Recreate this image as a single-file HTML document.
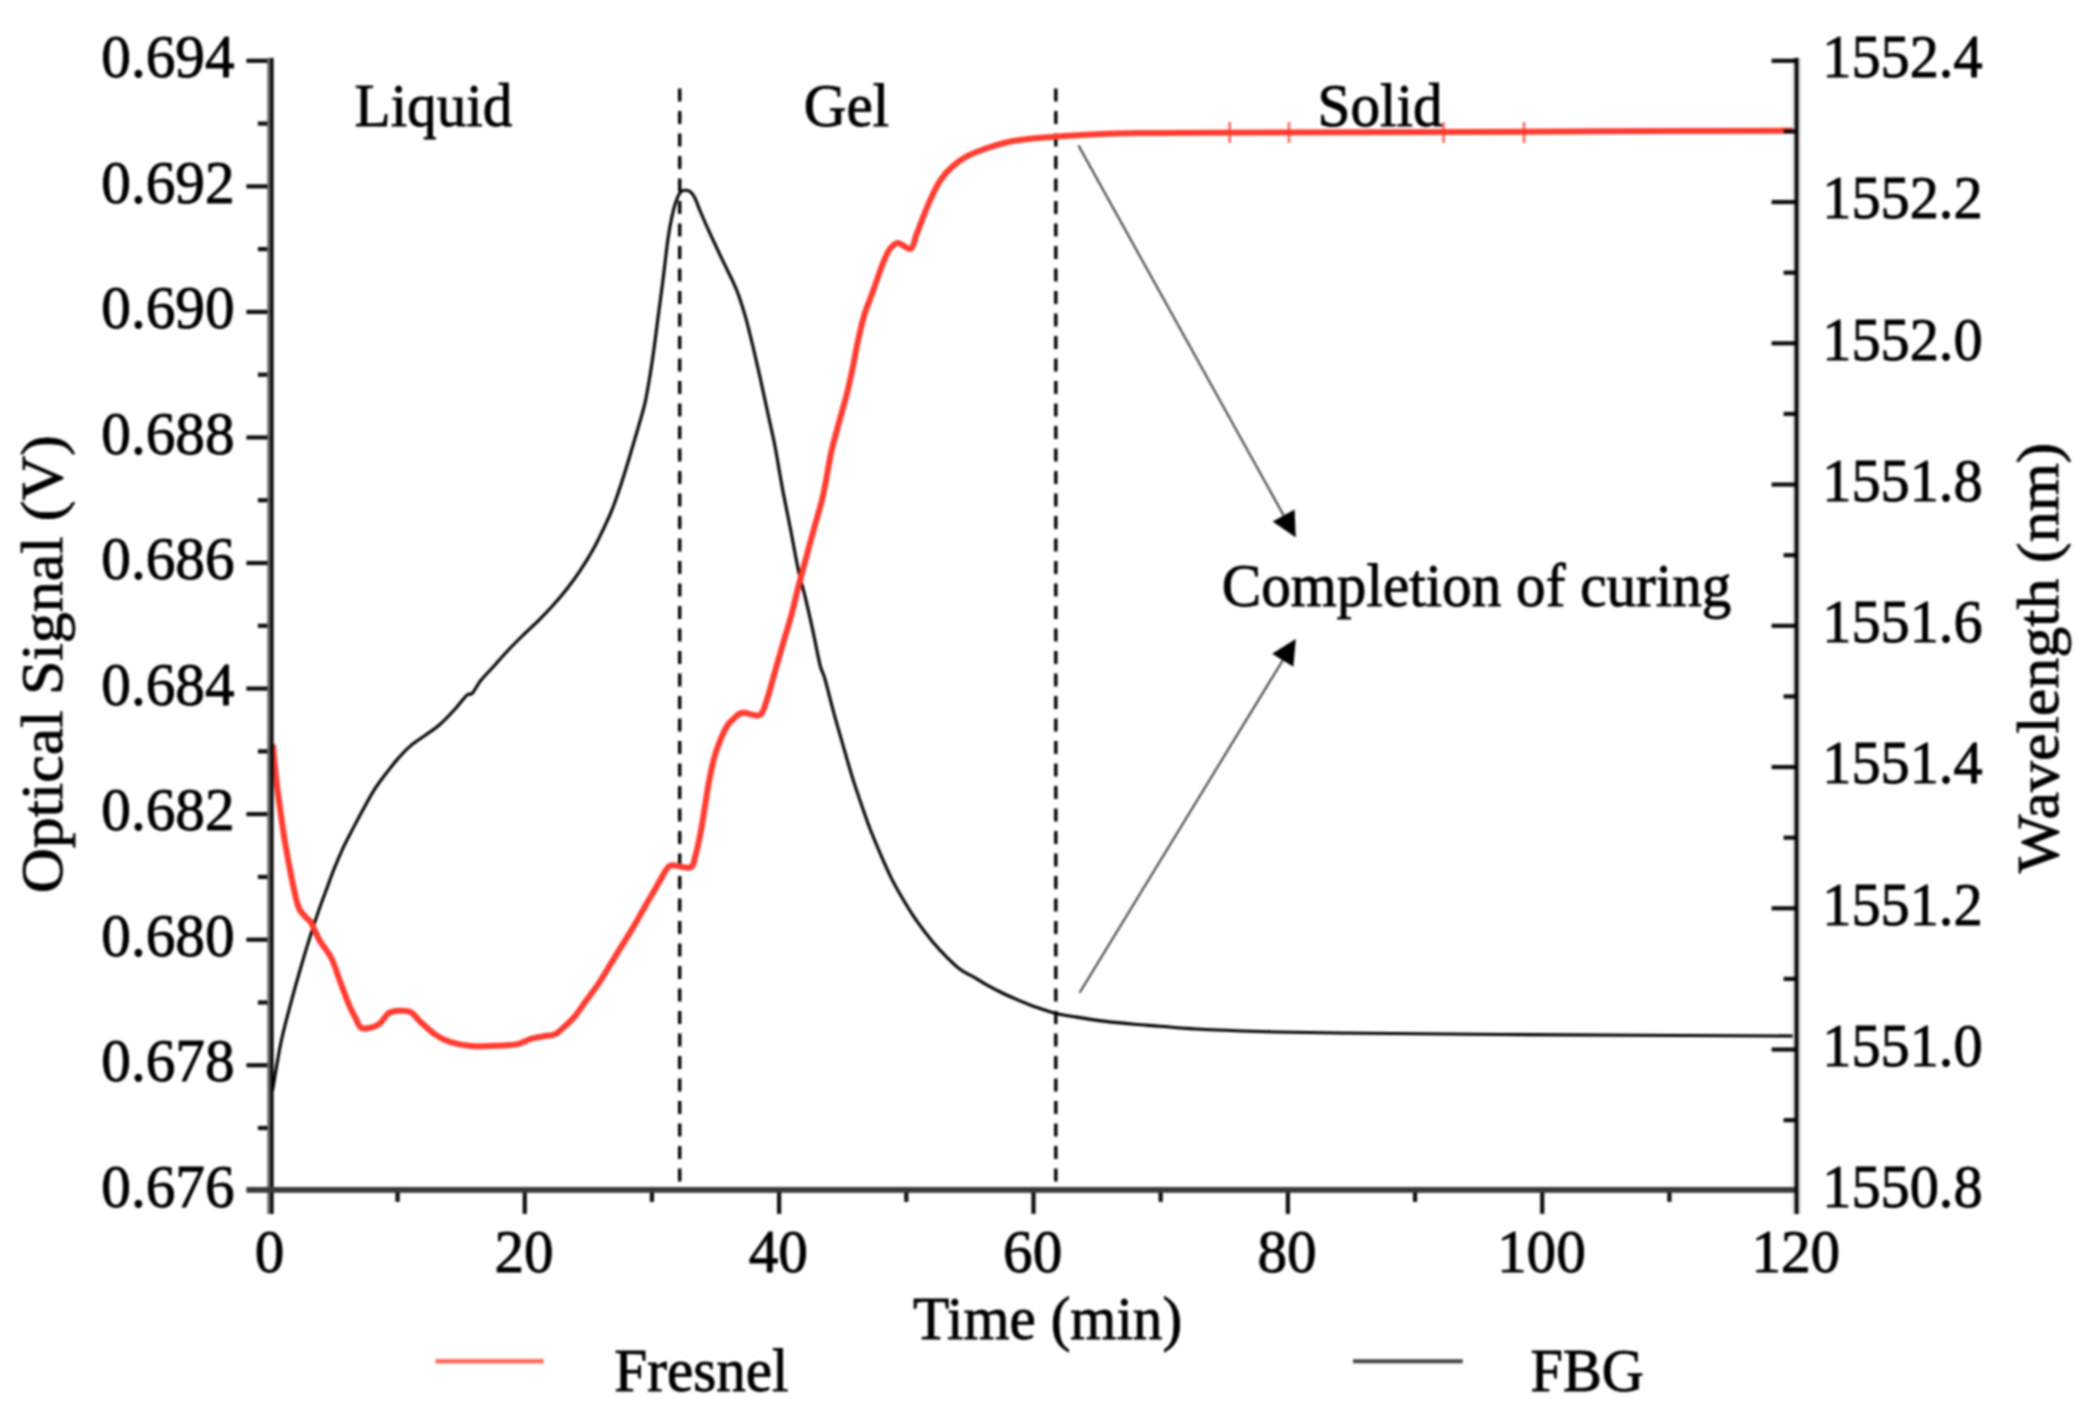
<!DOCTYPE html>
<html><head><meta charset="utf-8"><title>Curing chart</title>
<style>html,body{margin:0;padding:0;background:#fff}body{width:2079px;height:1419px;overflow:hidden}</style></head>
<body>
<svg width="2079" height="1419" viewBox="0 0 2079 1419" style="display:block;filter:blur(0.8px)">
<rect width="2079" height="1419" fill="#fff"/>
<line x1="679.7" y1="88.5" x2="679.7" y2="1187" stroke="#000" stroke-width="3.4" stroke-dasharray="13 9.5"/>
<line x1="1055.8" y1="88.5" x2="1055.8" y2="1187" stroke="#000" stroke-width="3.4" stroke-dasharray="13 9.5"/>
<path d="M272.5,1091.0 C273.9,1083.0 277.7,1057.9 280.8,1043.2 C283.9,1028.5 287.5,1015.5 290.9,1002.8 C294.3,990.0 297.6,978.3 301.0,966.7 C304.4,955.1 308.0,943.3 311.1,933.4 C314.2,923.5 317.4,914.3 319.8,907.4 C322.2,900.5 323.2,898.2 325.6,891.8 C328.0,885.3 331.3,875.9 334.2,868.7 C337.1,861.5 340.0,854.7 342.9,848.4 C345.8,842.1 348.2,837.6 351.6,831.1 C355.0,824.6 359.2,816.4 363.1,809.4 C367.0,802.4 370.9,795.2 374.7,789.2 C378.5,783.2 382.3,778.3 386.2,773.3 C390.1,768.2 393.5,763.7 397.8,758.9 C402.1,754.1 405.5,749.8 412.2,744.4 C418.9,739.0 430.6,732.2 437.8,726.3 C445.0,720.4 450.3,714.2 455.1,709.0 C459.9,703.8 463.8,697.9 466.7,695.3 C469.6,692.6 470.0,695.6 472.4,693.1 C474.8,690.6 477.2,684.9 481.1,680.1 C485.0,675.3 490.8,669.5 495.6,664.2 C500.4,658.9 505.2,653.3 510.0,648.3 C514.8,643.2 519.6,638.6 524.4,633.9 C529.2,629.2 534.1,625.0 538.9,620.2 C543.7,615.4 548.5,610.4 553.3,605.0 C558.1,599.6 563.5,593.2 567.8,587.7 C572.1,582.2 575.7,577.1 579.3,571.8 C582.9,566.5 586.3,561.2 589.4,555.9 C592.5,550.6 594.3,547.8 598.1,540.0 C601.9,532.2 608.1,519.8 612.4,508.9 C616.7,498.0 619.9,488.1 624.1,474.8 C628.3,461.5 634.3,440.9 637.8,428.9 C641.3,416.9 643.1,411.1 645.0,402.9 C646.9,394.7 647.8,388.5 649.3,379.8 C650.8,371.1 652.2,361.2 653.7,350.9 C655.2,340.5 656.6,328.6 658.0,317.7 C659.4,306.8 661.3,293.4 662.3,285.5 C663.3,277.6 663.2,277.9 664.2,270.0 C665.2,262.1 666.8,246.9 668.1,238.0 C669.4,229.1 670.6,222.5 672.0,216.3 C673.4,210.1 674.8,204.8 676.3,200.7 C677.8,196.6 679.2,193.7 680.7,192.0 C682.2,190.3 683.5,190.4 685.0,190.3 C686.5,190.2 688.4,190.3 690.0,191.5 C691.6,192.7 692.7,193.9 694.5,197.3 C696.3,200.7 698.0,205.9 700.6,212.0 C703.2,218.1 706.5,225.8 710.1,233.7 C713.7,241.6 718.5,251.7 722.3,259.7 C726.1,267.7 730.1,275.4 732.9,281.5 C735.7,287.6 736.7,289.7 738.9,296.0 C741.1,302.3 743.7,310.4 746.1,319.1 C748.5,327.8 750.9,337.9 753.3,348.0 C755.7,358.1 758.2,369.0 760.6,379.8 C763.0,390.6 765.4,401.9 767.8,413.0 C770.2,424.1 773.0,435.9 775.0,446.2 C777.0,456.5 778.5,466.5 780.0,474.8 C781.5,483.1 782.0,486.5 783.9,496.1 C785.8,505.7 788.7,519.9 791.1,532.2 C793.5,544.5 795.9,558.7 798.3,569.8 C800.7,580.9 803.2,588.6 805.6,598.7 C808.0,608.8 810.4,619.4 812.8,630.4 C815.2,641.4 818.0,656.7 820.0,664.8 C822.0,672.9 822.6,671.0 824.9,678.9 C827.2,686.8 830.7,701.5 833.6,712.1 C836.5,722.7 839.1,731.6 842.2,742.4 C845.3,753.2 848.7,765.5 852.3,777.1 C855.9,788.7 860.9,803.0 863.9,811.8 C866.9,820.6 867.7,822.9 870.5,830.0 C873.3,837.1 877.2,846.5 880.7,854.7 C884.2,862.9 887.8,871.2 891.8,879.1 C895.8,887.0 900.5,895.0 904.8,902.2 C909.1,909.4 913.2,915.9 917.8,922.4 C922.4,928.9 927.4,935.4 932.2,941.2 C937.0,947.0 941.9,952.3 946.7,957.1 C951.5,961.9 956.3,966.6 961.1,970.1 C965.9,973.6 970.8,975.3 975.6,978.1 C980.4,980.9 985.2,984.1 990.0,986.7 C994.8,989.4 999.6,991.7 1004.4,994.0 C1009.2,996.3 1014.1,998.4 1018.9,1000.4 C1023.7,1002.4 1027.2,1004.1 1033.3,1006.2 C1039.4,1008.3 1048.2,1011.4 1055.4,1013.2 C1062.6,1015.0 1068.3,1015.7 1076.7,1017.1 C1085.1,1018.5 1096.0,1020.2 1105.6,1021.4 C1115.2,1022.6 1125.3,1023.5 1134.4,1024.3 C1143.5,1025.1 1149.7,1025.4 1160.0,1026.2 C1170.3,1027.0 1179.7,1028.1 1196.3,1029.0 C1212.9,1029.9 1235.8,1030.8 1259.8,1031.5 C1283.8,1032.2 1300.0,1032.5 1340.0,1033.0 C1380.0,1033.5 1423.9,1034.0 1500.0,1034.5 C1576.1,1035.0 1747.2,1035.8 1796.6,1036.0" fill="none" stroke="#000" stroke-width="3.1" stroke-linejoin="round"/>
<path d="M272.8,744.4 C273.4,750.4 275.1,769.0 276.4,780.6 C277.7,792.2 279.4,803.4 280.8,813.8 C282.2,824.1 283.4,832.6 285.1,842.7 C286.8,852.8 289.2,865.7 290.9,874.4 C292.6,883.1 293.8,888.9 295.2,894.7 C296.6,900.6 297.4,905.4 299.6,909.5 C301.8,913.6 306.3,917.3 308.2,919.5 C310.1,921.7 309.2,919.0 311.1,922.5 C313.0,926.0 316.4,934.8 319.8,940.7 C323.2,946.6 327.9,951.3 331.3,958.0 C334.7,964.7 337.1,973.4 340.0,981.1 C342.9,988.8 346.1,997.9 348.7,1004.2 C351.3,1010.5 353.7,1014.7 355.9,1018.7 C358.1,1022.7 358.1,1027.0 361.7,1028.1 C365.3,1029.2 373.0,1027.7 377.6,1025.2 C382.2,1022.7 385.2,1015.3 389.1,1012.9 C393.0,1010.5 397.1,1010.8 400.7,1010.7 C404.3,1010.6 407.4,1010.3 410.8,1012.2 C414.2,1014.1 416.8,1018.6 420.9,1022.3 C425.0,1026.0 430.5,1031.3 435.3,1034.6 C440.1,1037.8 443.8,1039.9 449.8,1041.8 C455.8,1043.7 464.2,1045.4 471.4,1046.1 C478.6,1046.8 485.6,1046.1 493.1,1045.8 C500.6,1045.5 509.9,1045.6 516.2,1044.4 C522.5,1043.2 525.9,1040.3 530.7,1038.9 C535.5,1037.5 541.1,1036.8 545.1,1036.0 C549.1,1035.2 551.7,1035.8 554.7,1034.4 C557.7,1033.0 559.9,1030.8 563.3,1027.8 C566.7,1024.8 571.0,1020.8 574.9,1016.2 C578.8,1011.6 582.5,1005.6 586.4,1000.3 C590.2,995.0 594.1,990.2 598.0,984.4 C601.9,978.6 605.8,972.0 609.6,965.7 C613.5,959.5 617.2,953.2 621.1,946.9 C625.0,940.6 628.9,934.6 632.7,928.1 C636.6,921.6 640.6,914.1 644.2,907.9 C647.8,901.6 651.4,895.6 654.3,890.6 C657.2,885.6 659.4,881.3 661.6,877.6 C663.8,873.9 665.4,870.2 667.3,868.2 C669.2,866.2 669.2,865.4 673.1,865.3 C677.0,865.2 686.7,868.9 690.4,867.4 C694.1,865.9 693.5,862.4 695.2,856.5 C696.9,850.6 699.1,840.4 700.7,832.0 C702.3,823.6 703.6,814.7 705.0,806.0 C706.4,797.3 707.8,787.7 709.3,780.0 C710.8,772.3 712.0,766.1 713.7,759.8 C715.4,753.5 717.2,747.9 719.4,742.4 C721.6,736.9 724.3,730.6 726.7,726.6 C729.1,722.6 731.2,720.9 733.9,718.6 C736.5,716.3 738.3,713.4 742.6,712.8 C746.9,712.2 755.8,717.3 759.9,715.0 C764.0,712.7 764.9,705.1 767.1,699.1 C769.3,693.1 771.0,685.6 772.9,678.9 C774.8,672.2 776.9,665.1 778.7,658.7 C780.5,652.3 781.8,647.7 783.9,640.6 C786.0,633.5 788.7,624.9 791.1,616.0 C793.5,607.1 795.9,596.5 798.3,587.1 C800.7,577.7 803.0,569.6 805.6,559.7 C808.2,549.8 811.3,538.5 814.2,527.9 C817.1,517.3 820.3,507.4 822.9,496.1 C825.5,484.8 828.1,468.1 829.7,460.0 C831.3,451.9 830.6,454.3 832.3,447.7 C833.9,441.1 837.2,429.1 839.6,420.2 C842.0,411.3 844.6,402.9 846.8,394.2 C849.0,385.5 850.7,377.3 852.6,368.2 C854.5,359.1 856.3,348.4 858.3,339.3 C860.3,330.2 862.3,321.6 864.8,313.5 C867.3,305.4 870.4,298.5 873.2,290.6 C876.1,282.7 879.2,272.8 881.9,266.0 C884.5,259.2 886.5,253.9 889.1,250.1 C891.8,246.2 894.2,243.1 897.8,242.9 C901.4,242.7 907.7,250.1 910.8,248.7 C913.9,247.2 914.4,239.8 916.6,234.2 C918.8,228.6 921.2,221.9 923.8,215.4 C926.4,208.9 929.5,201.2 932.4,195.2 C935.3,189.2 937.7,184.1 941.1,179.3 C944.5,174.5 948.4,170.2 952.7,166.3 C957.0,162.5 961.8,159.1 967.1,156.2 C972.4,153.3 977.9,151.3 984.4,149.0 C990.9,146.7 998.9,144.2 1006.1,142.5 C1013.3,140.8 1019.6,139.9 1027.8,138.9 C1036.0,137.9 1045.6,137.4 1055.2,136.7 C1064.8,136.0 1071.5,135.4 1085.6,134.8 C1099.7,134.2 1120.9,133.4 1140.0,133.1 C1159.1,132.8 1150.0,133.0 1200.0,132.8 C1250.0,132.6 1340.6,132.4 1440.0,132.0 C1539.4,131.6 1737.2,130.8 1796.6,130.6" fill="none" stroke="#ff3b30" stroke-width="6" stroke-linejoin="round" stroke-linecap="butt"/>
<line x1="1229.7" y1="122" x2="1229.7" y2="143" stroke="#ff3b30" stroke-width="2.6" stroke-opacity="0.8"/>
<line x1="1289" y1="122" x2="1289" y2="143" stroke="#ff3b30" stroke-width="2.6" stroke-opacity="0.8"/>
<line x1="1443.5" y1="122" x2="1443.5" y2="143" stroke="#ff3b30" stroke-width="2.6" stroke-opacity="0.8"/>
<line x1="1524" y1="122" x2="1524" y2="143" stroke="#ff3b30" stroke-width="2.6" stroke-opacity="0.8"/>
<rect x="1792.6" y="57.9" width="8" height="1156.1" fill="#cfcfcf"/>
<g stroke="#0c0c0c" stroke-width="4.2" fill="none">
<path d="M246.4,60.80 H270.4"/>
<path d="M257.9,123.58 H270.4"/>
<path d="M246.4,186.36 H270.4"/>
<path d="M257.9,249.13 H270.4"/>
<path d="M246.4,311.91 H270.4"/>
<path d="M257.9,374.69 H270.4"/>
<path d="M246.4,437.47 H270.4"/>
<path d="M257.9,500.24 H270.4"/>
<path d="M246.4,563.02 H270.4"/>
<path d="M257.9,625.80 H270.4"/>
<path d="M246.4,688.58 H270.4"/>
<path d="M257.9,751.36 H270.4"/>
<path d="M246.4,814.13 H270.4"/>
<path d="M257.9,876.91 H270.4"/>
<path d="M246.4,939.69 H270.4"/>
<path d="M257.9,1002.47 H270.4"/>
<path d="M246.4,1065.24 H270.4"/>
<path d="M257.9,1128.02 H270.4"/>
<path d="M1771.6,60.80 H1796.6"/>
<path d="M1783.6,131.43 H1796.6"/>
<path d="M1771.6,202.05 H1796.6"/>
<path d="M1783.6,272.68 H1796.6"/>
<path d="M1771.6,343.30 H1796.6"/>
<path d="M1783.6,413.93 H1796.6"/>
<path d="M1771.6,484.55 H1796.6"/>
<path d="M1783.6,555.17 H1796.6"/>
<path d="M1771.6,625.80 H1796.6"/>
<path d="M1783.6,696.42 H1796.6"/>
<path d="M1771.6,767.05 H1796.6"/>
<path d="M1783.6,837.67 H1796.6"/>
<path d="M1771.6,908.30 H1796.6"/>
<path d="M1783.6,978.92 H1796.6"/>
<path d="M1771.6,1049.55 H1796.6"/>
<path d="M1783.6,1120.17 H1796.6"/>
<path d="M397.58,1189.9 V1201.9"/>
<path d="M524.77,1189.9 V1213.9"/>
<path d="M651.95,1189.9 V1201.9"/>
<path d="M779.13,1189.9 V1213.9"/>
<path d="M906.32,1189.9 V1201.9"/>
<path d="M1033.50,1189.9 V1213.9"/>
<path d="M1160.68,1189.9 V1201.9"/>
<path d="M1287.87,1189.9 V1213.9"/>
<path d="M1415.05,1189.9 V1201.9"/>
<path d="M1542.23,1189.9 V1213.9"/>
<path d="M1669.42,1189.9 V1201.9"/>
</g>
<rect x="267.3" y="57.9" width="3.1" height="1156.1" fill="#666"/>
<rect x="270.3" y="57.9" width="3.3" height="1156.1" fill="#000"/>
<rect x="246.4" y="1187" width="1551.6" height="5.8" fill="#383838"/>
<rect x="1794.8" y="57.9" width="3.6" height="1156.1" fill="#000"/>
<line x1="1078.5" y1="145.5" x2="1283.7" y2="515.5" stroke="#3a3a3a" stroke-width="2"/><polygon points="1295.8,537.4 1272.7,521.6 1294.6,509.5" fill="#000"/>
<line x1="1079.6" y1="992.7" x2="1282.8" y2="660.2" stroke="#3a3a3a" stroke-width="2"/><polygon points="1295.8,638.9 1293.4,666.8 1272.1,653.7" fill="#000"/>
<g font-family="'Liberation Serif', serif" font-size="62" fill="#000" stroke="#000" stroke-width="0.9">
<text transform="translate(234.5,77.0) scale(0.955,1)" text-anchor="end">0.694</text>
<text transform="translate(234.5,202.6) scale(0.955,1)" text-anchor="end">0.692</text>
<text transform="translate(234.5,328.1) scale(0.955,1)" text-anchor="end">0.690</text>
<text transform="translate(234.5,453.7) scale(0.955,1)" text-anchor="end">0.688</text>
<text transform="translate(234.5,579.2) scale(0.955,1)" text-anchor="end">0.686</text>
<text transform="translate(234.5,704.8) scale(0.955,1)" text-anchor="end">0.684</text>
<text transform="translate(234.5,830.3) scale(0.955,1)" text-anchor="end">0.682</text>
<text transform="translate(234.5,955.9) scale(0.955,1)" text-anchor="end">0.680</text>
<text transform="translate(234.5,1081.4) scale(0.955,1)" text-anchor="end">0.678</text>
<text transform="translate(234.5,1207.0) scale(0.955,1)" text-anchor="end">0.676</text>
<text transform="translate(1822.3,77.0) scale(0.94,1)">1552.4</text>
<text transform="translate(1822.3,218.2) scale(0.94,1)">1552.2</text>
<text transform="translate(1822.3,359.5) scale(0.94,1)">1552.0</text>
<text transform="translate(1822.3,500.8) scale(0.94,1)">1551.8</text>
<text transform="translate(1822.3,642.0) scale(0.94,1)">1551.6</text>
<text transform="translate(1822.3,783.2) scale(0.94,1)">1551.4</text>
<text transform="translate(1822.3,924.5) scale(0.94,1)">1551.2</text>
<text transform="translate(1822.3,1065.8) scale(0.94,1)">1551.0</text>
<text transform="translate(1822.3,1207.0) scale(0.94,1)">1550.8</text>
<text transform="translate(269.6,1272.0) scale(0.955,1)" text-anchor="middle">0</text>
<text transform="translate(524.0,1272.0) scale(0.955,1)" text-anchor="middle">20</text>
<text transform="translate(778.3,1272.0) scale(0.955,1)" text-anchor="middle">40</text>
<text transform="translate(1032.7,1272.0) scale(0.955,1)" text-anchor="middle">60</text>
<text transform="translate(1287.1,1272.0) scale(0.955,1)" text-anchor="middle">80</text>
<text transform="translate(1541.4,1272.0) scale(0.955,1)" text-anchor="middle">100</text>
<text transform="translate(1795.8,1272.0) scale(0.955,1)" text-anchor="middle">120</text>
<text transform="translate(354.5,125.8) scale(0.955,1)">Liquid</text>
<text transform="translate(803.8,125.8) scale(0.955,1)">Gel</text>
<text transform="translate(1317.5,125.8) scale(0.955,1)">Solid</text>
<text transform="translate(1221.7,606.0) scale(0.955,1)">Completion of curing</text>
<text transform="translate(913.0,1338.5) scale(0.955,1)">Time (min)</text>
<text transform="translate(614.3,1390.5) scale(0.955,1)">Fresnel</text>
<text transform="translate(1530.5,1390.5) scale(0.94,1)">FBG</text>
<text transform="translate(62.0,893.0) scale(0.955,1) rotate(-90)">Optical Signal (V)</text>
<text transform="translate(2057.5,873.0) scale(0.955,1) rotate(-90)">Wavelength (nm)</text>
</g>
<line x1="435.5" y1="1361.2" x2="543.5" y2="1361.2" stroke="#ff6a5e" stroke-width="4.5"/>
<line x1="1353" y1="1361.2" x2="1462.7" y2="1361.2" stroke="#444" stroke-width="4"/>
</svg>
</body></html>
